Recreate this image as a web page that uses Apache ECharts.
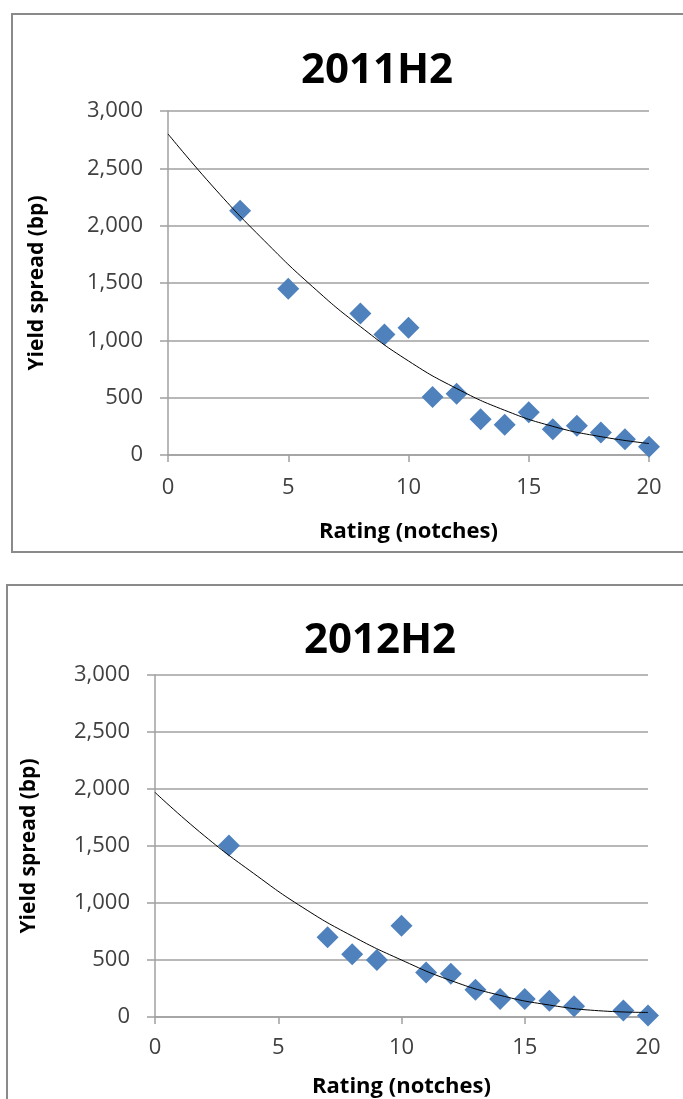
<!DOCTYPE html>
<html>
<head>
<meta charset="utf-8">
<script src="https://cdn.jsdelivr.net/npm/echarts@6/dist/echarts.min.js"></script>
<style>
html,body{margin:0;padding:0;background:#fff;}
#chart{width:683px;height:1099px;}
</style>
</head>
<body>
<div id="chart"></div>
<script>
// ---- data ----
const titles = ['2011H2', '2012H2'];
const xTicks = [0, 5, 10, 15, 20];
const yTicks = [0, 500, 1000, 1500, 2000, 2500, 3000];

const rating2011 = [3, 5, 8, 9, 10, 11, 12, 13, 14, 15, 16, 17, 18, 19, 20];
const spread2011 = [2130, 1450, 1235, 1050, 1110, 505, 535, 312, 263, 372, 224, 254, 197, 138, 72];
const trendX2011 = [0, 2, 4, 6, 8, 10, 12, 14, 16, 18, 20];
const trendY2011 = [2800, 2310, 1870, 1470, 1120, 820, 580, 390, 250, 160, 100];

const rating2012 = [3, 7, 8, 9, 10, 11, 12, 13, 14, 15, 16, 17, 19, 20];
const spread2012 = [1505, 700, 550, 500, 800, 390, 380, 240, 157, 157, 143, 95, 57, 14];
const trendX2012 = [0, 2, 4, 6, 8, 10, 12, 14, 16, 18, 20];
const trendY2012 = [1970, 1590, 1260, 960, 710, 500, 320, 190, 105, 55, 40];

// ---- styles ----
const FONT = '"Open Sans", "Noto Sans", sans-serif';
const AXIS_COLOR = '#a0a0a0';
const BLUE = '#4f81bd';

const zip = (xs, ys) => xs.map((x, i) => [x, ys[i]]);

function xAxis(gridIndex, nameGap, labelMargin) {
  return {
    type: 'value', gridIndex, min: xTicks[0], max: xTicks[xTicks.length - 1], interval: 5,
    name: 'Rating (notches)', nameLocation: 'middle', nameGap,
    nameTextStyle: { fontFamily: FONT, fontWeight: 'bold', fontSize: 22, color: '#000' },
    axisLine: { show: true, lineStyle: { color: AXIS_COLOR, width: 1.5 } },
    axisTick: { show: true, inside: false, length: 7, lineStyle: { color: AXIS_COLOR, width: 1.5 } },
    axisLabel: { margin: labelMargin, fontFamily: FONT, fontSize: 22, color: '#404040' },
    splitLine: { show: false }
  };
}
function yAxis(gridIndex, nameGap) {
  return {
    type: 'value', gridIndex, min: yTicks[0], max: yTicks[yTicks.length - 1], interval: 500,
    name: 'Yield spread (bp)', nameLocation: 'middle', nameGap,
    nameTextStyle: { fontFamily: FONT, fontWeight: 'bold', fontSize: 21, color: '#000' },
    axisLine: { show: true, lineStyle: { color: AXIS_COLOR, width: 1.5 } },
    axisTick: { show: true, inside: false, length: 8, lineStyle: { color: AXIS_COLOR, width: 1.5 } },
    axisLabel: {
      margin: 25, fontFamily: FONT, fontSize: 22, color: '#404040',
      formatter: v => v.toLocaleString('en-US')
    },
    splitLine: { show: true, lineStyle: { color: AXIS_COLOR, width: 1.5 } }
  };
}

const chart = echarts.init(document.getElementById('chart'), null, { renderer: 'canvas' });
chart.setOption({
  backgroundColor: '#fff',
  animation: false,
  title: [
    { text: titles[0], left: 372, top: 45, textAlign: 'center',
      textStyle: { fontFamily: FONT, fontWeight: 'bold', fontSize: 42, color: '#000' } },
    { text: titles[1], left: 375, top: 615, textAlign: 'center',
      textStyle: { fontFamily: FONT, fontWeight: 'bold', fontSize: 42, color: '#000' } }
  ],
  graphic: [
    { type: 'rect', shape: { x: 12, y: 14, width: 720, height: 538 }, style: { fill: 'none', stroke: '#8a8a8a', lineWidth: 2 }, silent: true, z: -1 },
    { type: 'rect', shape: { x: 7, y: 585, width: 720, height: 600 }, style: { fill: 'none', stroke: '#8a8a8a', lineWidth: 2 }, silent: true, z: -1 }
  ],
  grid: [
    { left: 168, right: 34, top: 111, bottom: 1099 - 455 },
    { left: 155, right: 35, top: 675, bottom: 1099 - 1018 }
  ],
  xAxis: [xAxis(0, 66, 22), xAxis(1, 59, 20)],
  yAxis: [yAxis(0, 120), yAxis(1, 115)],
  series: [
    { type: 'line', xAxisIndex: 0, yAxisIndex: 0, data: zip(trendX2011, trendY2011), smooth: true,
      showSymbol: false, symbol: 'none', lineStyle: { color: '#000', width: 1 }, z: 3 },
    { type: 'scatter', xAxisIndex: 0, yAxisIndex: 0, data: zip(rating2011, spread2011),
      symbol: 'diamond', symbolSize: [22, 22], itemStyle: { color: BLUE, opacity: 1 }, z: 2 },
    { type: 'line', xAxisIndex: 1, yAxisIndex: 1, data: zip(trendX2012, trendY2012), smooth: true,
      showSymbol: false, symbol: 'none', lineStyle: { color: '#000', width: 1 }, z: 3 },
    { type: 'scatter', xAxisIndex: 1, yAxisIndex: 1, data: zip(rating2012, spread2012),
      symbol: 'diamond', symbolSize: [22, 22], itemStyle: { color: BLUE, opacity: 1 }, z: 2 }
  ]
});
</script>
</body>
</html>
